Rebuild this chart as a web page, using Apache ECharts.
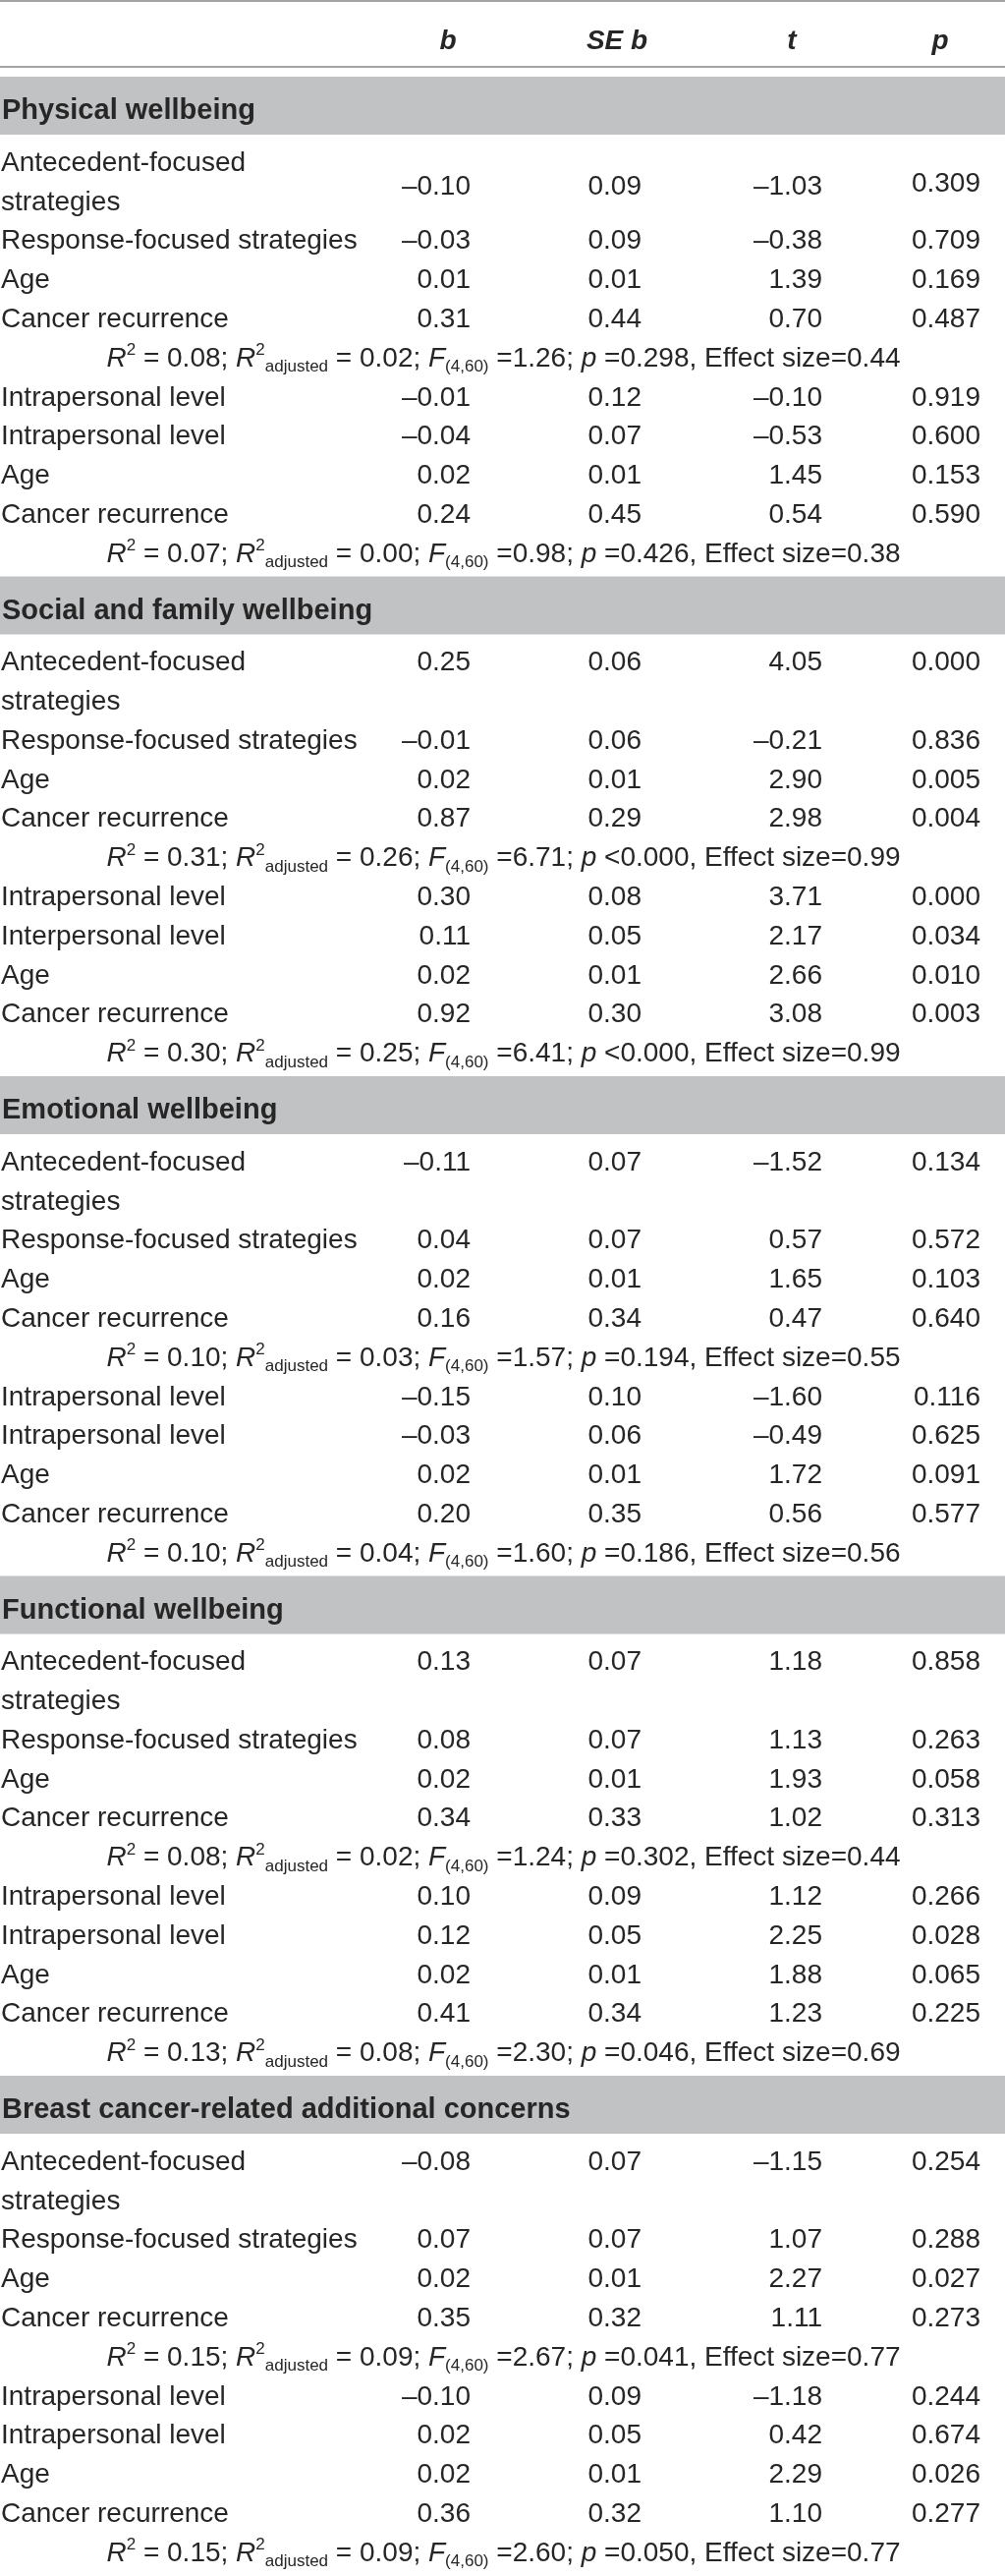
<!DOCTYPE html>
<html>
<head>
<meta charset="UTF-8">
<title>Regression table</title>
<script type="text/javascript" src="https://cdn.jsdelivr.net/npm/echarts@6/dist/echarts.min.js"></script>
<style>html,body{margin:0;padding:0;background:#fff;}</style>
</head>
<body>

<div id="box" style="width:1023px;height:2621px;"></div>

<script type="text/javascript">

// column heads and section titles
var columnHeads = ['b', 'SE b', 't', 'p'];
var sectionTitles = [
  'Physical wellbeing',
  'Social and family wellbeing',
  'Emotional wellbeing',
  'Functional wellbeing',
  'Breast cancer-related additional concerns'
];

// row labels, model A is the same in every section
var modelALabels = ['Antecedent-focused\nstrategies', 'Response-focused strategies', 'Age', 'Cancer recurrence'];
var modelBLabels = [
  ['Intrapersonal level', 'Intrapersonal level', 'Age', 'Cancer recurrence'],
  ['Intrapersonal level', 'Interpersonal level', 'Age', 'Cancer recurrence'],
  ['Intrapersonal level', 'Intrapersonal level', 'Age', 'Cancer recurrence'],
  ['Intrapersonal level', 'Intrapersonal level', 'Age', 'Cancer recurrence'],
  ['Intrapersonal level', 'Intrapersonal level', 'Age', 'Cancer recurrence']
];

// 8 rows per section: 4 for model A, 4 for model B
var bValues = [
  [-0.10, -0.03, 0.01, 0.31, -0.01, -0.04, 0.02, 0.24],
  [0.25, -0.01, 0.02, 0.87, 0.30, 0.11, 0.02, 0.92],
  [-0.11, 0.04, 0.02, 0.16, -0.15, -0.03, 0.02, 0.20],
  [0.13, 0.08, 0.02, 0.34, 0.10, 0.12, 0.02, 0.41],
  [-0.08, 0.07, 0.02, 0.35, -0.10, 0.02, 0.02, 0.36]
];
var seValues = [
  [0.09, 0.09, 0.01, 0.44, 0.12, 0.07, 0.01, 0.45],
  [0.06, 0.06, 0.01, 0.29, 0.08, 0.05, 0.01, 0.30],
  [0.07, 0.07, 0.01, 0.34, 0.10, 0.06, 0.01, 0.35],
  [0.07, 0.07, 0.01, 0.33, 0.09, 0.05, 0.01, 0.34],
  [0.07, 0.07, 0.01, 0.32, 0.09, 0.05, 0.01, 0.32]
];
var tValues = [
  [-1.03, -0.38, 1.39, 0.70, -0.10, -0.53, 1.45, 0.54],
  [4.05, -0.21, 2.90, 2.98, 3.71, 2.17, 2.66, 3.08],
  [-1.52, 0.57, 1.65, 0.47, -1.60, -0.49, 1.72, 0.56],
  [1.18, 1.13, 1.93, 1.02, 1.12, 2.25, 1.88, 1.23],
  [-1.15, 1.07, 2.27, 1.11, -1.18, 0.42, 2.29, 1.10]
];
var pValues = [
  [0.309, 0.709, 0.169, 0.487, 0.919, 0.600, 0.153, 0.590],
  [0.000, 0.836, 0.005, 0.004, 0.000, 0.034, 0.010, 0.003],
  [0.134, 0.572, 0.103, 0.640, 0.116, 0.625, 0.091, 0.577],
  [0.858, 0.263, 0.058, 0.313, 0.266, 0.028, 0.065, 0.225],
  [0.254, 0.288, 0.027, 0.273, 0.244, 0.674, 0.026, 0.277]
];

// model fit, [model A, model B] per section
var r2 = [[0.08, 0.07], [0.31, 0.30], [0.10, 0.10], [0.08, 0.13], [0.15, 0.15]];
var r2Adj = [[0.02, 0.00], [0.26, 0.25], [0.03, 0.04], [0.02, 0.08], [0.09, 0.09]];
var fStat = [[1.26, 0.98], [6.71, 6.41], [1.57, 1.60], [1.24, 2.30], [2.67, 2.60]];
var pModel = [['0.298', '0.426'], ['<0.000', '<0.000'], ['0.194', '0.186'], ['0.302', '0.046'], ['0.041', '0.050']];
var effectSize = [[0.44, 0.38], [0.99, 0.99], [0.55, 0.56], [0.44, 0.69], [0.77, 0.77]];

// layout (page units = pixels of the 1023 x 2621 page)
var W = 1023, H = 2621;
var colRight = [479, 653, 837, 998];
var headCenter = [456, 628, 806, 957];
var headY = 42, headLineY = 68;
var firstRow0 = 166, sectionPitch = 508.5, rowPitch = 39.8;
var bandAbove = 88, bandH = 59, titleDy = 35;

var FONT = "'Liberation Sans', Arial, Helvetica, sans-serif";
var INK = '#262626';

function fmt(v, d) {
  return v.toFixed(d).replace('-', '\u2013');
}

function statText(s, m) {
  var p = pModel[s][m];
  var pPart = p.charAt(0) === '<' ? ' ' + p : ' =' + p;
  return '{i|R}{sup|2}{n| = ' + r2[s][m].toFixed(2) + '; }' +
    '{i|R}{sup|2}{sub|adjusted}{n| = ' + r2Adj[s][m].toFixed(2) + '; }' +
    '{i|F}{sub|(4,60)}{n| =' + fStat[s][m].toFixed(2) + '; }' +
    '{i|p}{n|' + pPart + ', Effect size=' + effectSize[s][m].toFixed(2) + '}';
}

var statRich = {
  n: { fontFamily: FONT, fontSize: 28, lineHeight: 34, fill: INK },
  i: { fontFamily: FONT, fontSize: 28, fontStyle: 'italic', lineHeight: 34, fill: INK },
  sup: { fontFamily: FONT, fontSize: 17, lineHeight: 17, verticalAlign: 'top', fill: INK },
  sub: { fontFamily: FONT, fontSize: 17, lineHeight: 17, verticalAlign: 'bottom', fill: INK }
};

// build cells, bands and rules
var cells = [];
var bands = [];
var rules = [[1, 2], [headLineY, 2]];

columnHeads.forEach(function (h, c) {
  cells.push({ x: headCenter[c], y: headY, text: h, align: 'center', kind: 'head' });
});

sectionTitles.forEach(function (title, s) {
  var y0 = firstRow0 + s * sectionPitch;
  var top = y0 - bandAbove;
  bands.push([top, top + bandH]);
  cells.push({ x: 2, y: top + titleDy, text: title, align: 'left', kind: 'title' });

  var rowY = [];
  // model A rows
  rowY.push(y0, y0 + 2 * rowPitch, y0 + 3 * rowPitch, y0 + 4 * rowPitch);
  var statAY = y0 + 5 * rowPitch;
  for (var k = 0; k < 4; k++) rowY.push(y0 + (6 + k) * rowPitch);
  var statBY = y0 + 10 * rowPitch;

  for (var r = 0; r < 8; r++) {
    var label = r < 4 ? modelALabels[r] : modelBLabels[s][r - 4];
    label.split('\n').forEach(function (line, li) {
      cells.push({ x: 1, y: rowY[r] + li * rowPitch, text: line, align: 'left', kind: 'label' });
    });
    // first section centres the two-line row values, the others sit on line one
    var vy = (r === 0 && s === 0) ? rowY[r] + 24 : rowY[r];
    var vals = [fmt(bValues[s][r], 2), fmt(seValues[s][r], 2), fmt(tValues[s][r], 2), fmt(pValues[s][r], 3)];
    vals.forEach(function (v, c) {
      cells.push({ x: colRight[c], y: (c === 3 && r === 0 && s === 0) ? vy - 3 : vy, text: v, align: 'right', kind: 'num' });
    });
  }
  cells.push({ x: W / 2 + 1, y: statAY, text: statText(s, 0), align: 'center', kind: 'stat' });
  cells.push({ x: W / 2 + 1, y: statBY, text: statText(s, 1), align: 'center', kind: 'stat' });
});

var textStyles = {
  head: { fontFamily: FONT, fontSize: 28, fontWeight: 'bold', fontStyle: 'italic' },
  title: { fontFamily: FONT, fontSize: 29, fontWeight: 'bold' },
  label: { fontFamily: FONT, fontSize: 28 },
  num: { fontFamily: FONT, fontSize: 28 },
  stat: { fontFamily: FONT, fontSize: 28, rich: statRich }
};

var mychart = echarts.init(document.getElementById('box'), null, { renderer: 'canvas' });

var option = {
  animation: false,
  backgroundColor: '#ffffff',
  grid: { left: 0, right: 0, top: 0, bottom: 0 },
  xAxis: { type: 'value', min: 0, max: W, show: false },
  yAxis: { type: 'value', min: 0, max: H, inverse: true, show: false },
  series: [
    {
      // grey section bands
      type: 'custom',
      clip: false,
      data: bands.map(function (b) { return [0, b[0], b[1]]; }),
      renderItem: function (params, api) {
        var p1 = api.coord([0, api.value(1)]);
        var p2 = api.coord([W, api.value(2)]);
        return { type: 'rect', shape: { x: p1[0], y: p1[1], width: p2[0] - p1[0], height: p2[1] - p1[1] }, style: { fill: '#c1c2c4' } };
      }
    },
    {
      // horizontal rules
      type: 'custom',
      clip: false,
      data: rules.map(function (r) { return [0, r[0], r[1]]; }),
      renderItem: function (params, api) {
        var p1 = api.coord([0, api.value(1)]);
        var p2 = api.coord([W, api.value(1)]);
        return { type: 'line', shape: { x1: p1[0], y1: p1[1], x2: p2[0], y2: p2[1] }, style: { stroke: '#a3a3a3', lineWidth: api.value(2) } };
      }
    },
    {
      // all text cells
      type: 'custom',
      clip: false,
      data: cells.map(function (c, i) { return [c.x, c.y, i]; }),
      renderItem: function (params, api) {
        var c = cells[api.value(2)];
        var pt = api.coord([api.value(0), api.value(1)]);
        var st = textStyles[c.kind];
        var style = {
          text: c.text,
          fill: INK,
          align: c.align,
          verticalAlign: 'middle',
          fontFamily: st.fontFamily,
          fontSize: st.fontSize,
          fontWeight: st.fontWeight || 'normal',
          fontStyle: st.fontStyle || 'normal'
        };
        if (st.rich) style.rich = st.rich;
        return { type: 'text', x: pt[0], y: pt[1], style: style };
      }
    }
  ]
};

mychart.setOption(option);
</script>
</body>
</html>
